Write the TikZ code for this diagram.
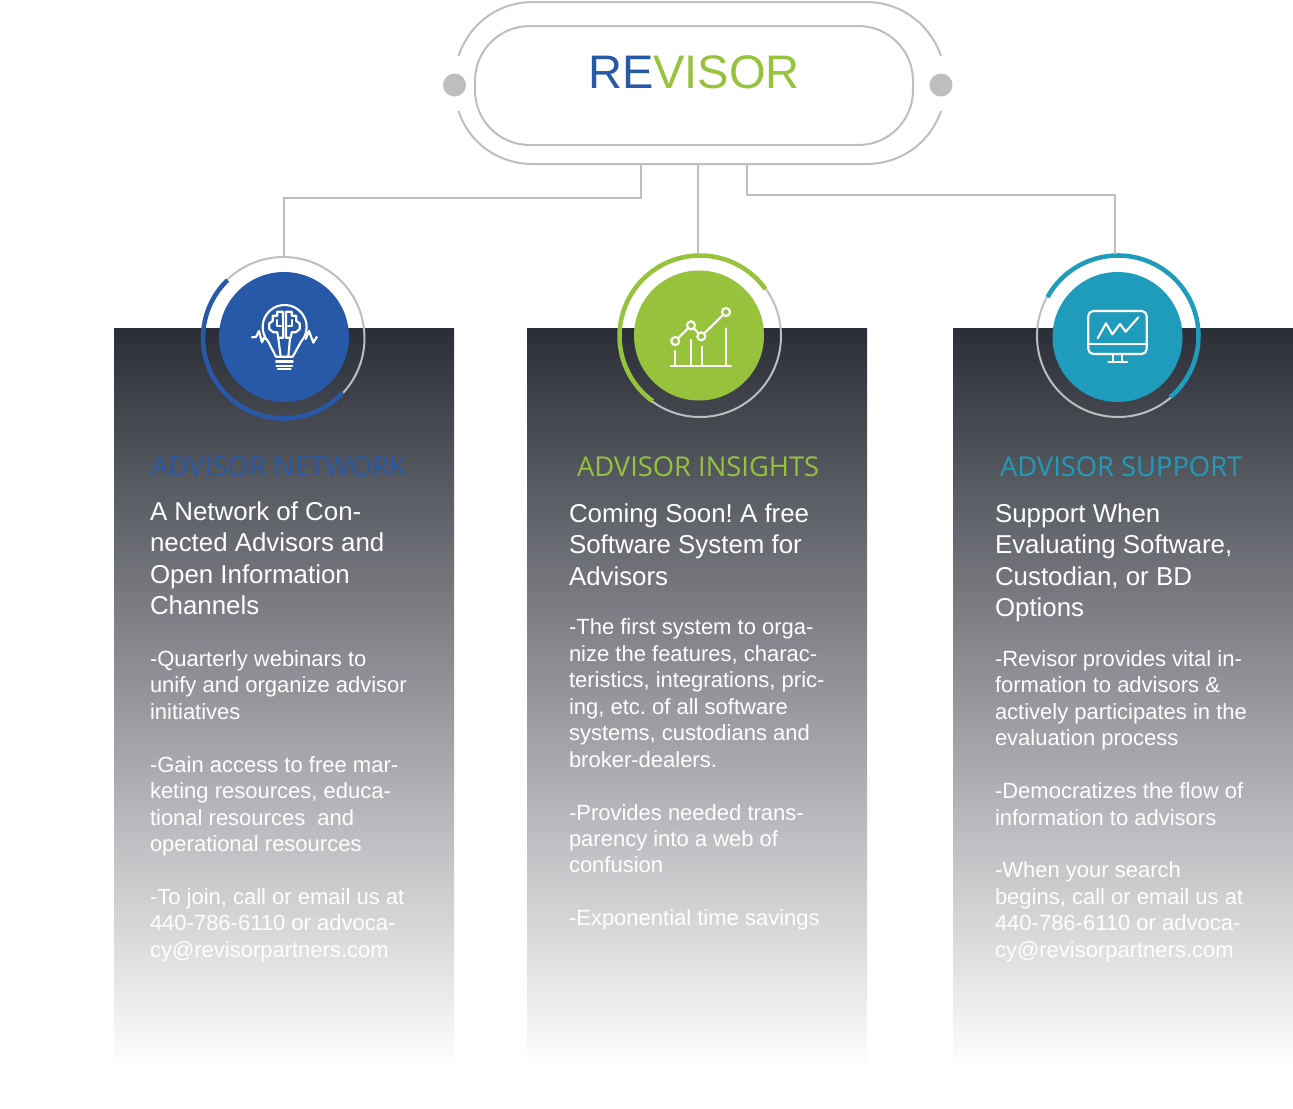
\documentclass[tikz,border=0pt]{standalone}
\usepackage{fontspec}
\setmainfont{Liberation Sans}
\newfontfamily\capsfont{Open Sans}
\usetikzlibrary{calc}

\definecolor{revblue}{HTML}{2859A8}
\definecolor{revgreen}{HTML}{96C23C}
\definecolor{revteal}{HTML}{1F9CBC}
\definecolor{revgrey}{HTML}{BCBEC0}
\definecolor{revink}{HTML}{2B2E37}

\tikzset{every picture/.style={line width=0.75pt}}
\tikzset{
  greyline/.style={draw=revgrey,line width=1.5pt},
  panelshade/.style={top color=revink,bottom color=white},
  ringline/.style={circle,draw=revgrey,line width=1.5pt,minimum size=121.5pt,inner sep=0pt},
  disc/.style={circle,minimum size=97.5pt,inner sep=0pt},
  iconline/.style={draw=white,line width=1.6pt,line join=round,line cap=round},
  chartpoint/.style={circle,draw=white,line width=1.6pt,fill=revgreen,minimum size=6pt,inner sep=0pt},
  brandtext/.style={font=\fontsize{35.3}{40}\selectfont,inner sep=0pt},
  captext/.style={font=\capsfont\fontsize{20.5}{24}\selectfont,inner sep=0pt,anchor=north west},
  headtext/.style={font=\fontsize{19.4}{23.6}\selectfont\frenchspacing,text=white,align=left,inner sep=0pt,anchor=north west},
  bodytext/.style={font=\fontsize{16.5}{19.83}\selectfont\frenchspacing,text=white,align=left,inner sep=0pt,anchor=north west}
}

\begin{document}
\begin{tikzpicture}[x=0.75pt,y=0.75pt,yscale=-1,xscale=1]
        \useasboundingbox (0,0) rectangle (1293,1108);

        %Shape: Rectangle
        \shade[panelshade] (114,328) rectangle (454,1068);
        \shade[panelshade] (527,328) rectangle (867,1068);
        \shade[panelshade] (953,328) rectangle (1293,1068);

        %Pill
        \node[greyline,rounded corners=41pt,minimum width=328.5pt,minimum height=89.25pt,inner sep=0pt] (pill) at (694,85.5) {};
        \node[brandtext] (brand) at (694,72) {\textcolor{revblue}{RE}\textcolor{revgreen}{VISOR}};
        %Curve Lines
        \draw[greyline] (458.5,56) .. controls (470,22) and (500,2) .. (533,2) -- (866,2) .. controls (899,2) and (929,22) .. (941,56);
        \draw[greyline] (458.5,111) .. controls (470,145) and (500,164) .. (533,164) -- (866,164) .. controls (899,164) and (929,145) .. (941,111);
        \node[circle,fill=revgrey,minimum size=17.25pt,inner sep=0pt] (dotleft) at (454.5,85) {};
        \node[circle,fill=revgrey,minimum size=17.25pt,inner sep=0pt] (dotright) at (941,85) {};

        %Rings
        \node[ringline] (ringnet) at (283.5,338) {};
        \node[ringline] (ringins) at (700,336) {};
        \node[ringline] (ringsup) at (1118,336) {};
        \draw[revblue,line width=3.4pt] (ringnet.center) ++(-134:80.5) arc[start angle=-134,end angle=-317.5,radius=80.5];
        \draw[revgreen,line width=3.4pt] (ringins.center) ++(-35.6:80.5) arc[start angle=-35.6,end angle=-234,radius=80.5];
        \draw[revteal,line width=3.4pt] (ringsup.center) ++(-151:80.5) arc[start angle=-151,end angle=49.5,radius=80.5];
        \node[disc,fill=revblue] (discnet) at (284,337) {};
        \node[disc,fill=revgreen] (discins) at (699,335.5) {};
        \node[disc,fill=revteal] (discsup) at (1117.5,337) {};

        %Connectors
        \coordinate (outleft) at (641,164);
        \coordinate (outmid) at (698,164);
        \coordinate (outright) at (747,164);
        \coordinate (topsup) at (1115,254);
        \draw[greyline] (outleft) -- ++(0,34) -| (ringnet.north);
        \draw[greyline] (outmid) -- (outmid |- ringins.north);
        \draw[greyline] (outright) -- ++(0,31) -| (topsup);

        %Bulb
        \draw[iconline] (268.3,341.7) arc[start angle=138,end angle=402,radius=22] -- (292.7,356.7) -- (276,356.7) -- cycle;
        \draw[iconline] (278.3,338.3) -- (280.7,356.7) (290,338.3) -- (288.3,356.7);
        \draw[iconline] (276,361.5) -- (292.7,361.5) (276.5,366) -- (292.2,366) (278,369) -- (290.7,369);
        \draw[iconline] (283,311.7) -- (277.3,311.7) -- (277.3,315.7) -- (272.7,315.7) -- (272.7,321) -- (269.3,323.3) -- (269.3,329) -- (273.3,332.3) -- (277.3,332.3) -- (278.3,337.7) -- (283.3,337.7) -- cycle;
        \draw[iconline] (286,311.7) -- (291.7,311.7) -- (291.7,315.7) -- (296.3,315.7) -- (296.3,321) -- (299.7,323.3) -- (299.7,329) -- (295.7,332.3) -- (291.7,332.3) -- (290.7,337.7) -- (286,337.7) -- cycle;
        \draw[iconline] (277.3,320) -- (277.3,326) -- (281,326) (291.7,320) -- (291.7,326) -- (288,326);
        \draw[iconline] (252,337.3) -- (256,337) -- (259,331) -- (262,342.3) -- (264,337.7) -- (266,339.3);
        \draw[iconline] (316.7,337) -- (313.3,342.7) -- (309,331) -- (305.7,339);

        %Chart
        \draw[iconline] (670.7,366) -- (731,366);
        \draw[iconline] (675.3,351) -- (675.3,366) (691,340) -- (691,366) (701.7,346.7) -- (701.7,366) (725.7,328.3) -- (725.7,366);
        \draw[iconline] (675.3,341) -- (691,325.3) -- (701.3,336.3) -- (726,312);
        \node[chartpoint] (pta) at (675.3,341) {};
        \node[chartpoint] (ptb) at (691,325.3) {};
        \node[chartpoint] (ptc) at (701.3,336.3) {};
        \node[chartpoint] (ptd) at (726,312) {};

        %Monitor
        \draw[iconline,rounded corners=3.75pt] (1088.3,311) rectangle (1146.7,354);
        \draw[iconline] (1088.3,344.3) -- (1146.7,344.3);
        \draw[iconline] (1113.3,354) -- (1113.3,362.3) (1122.3,354) -- (1122.3,362.3) (1108.3,362.3) -- (1127.3,362.3);
        \draw[iconline] (1097.7,338.3) -- (1106,323.3) -- (1112.3,334.3) -- (1120,324) -- (1125.7,331.7) -- (1138.3,317.3);

        %Captions
        \node[captext,text=revblue,font=\capsfont\fontsize{20.8}{24}\selectfont] (capnet) at (150,456) {ADVISOR NETWORK};
        \node[captext,text=revgreen] (capins) at (576.5,456.5) {ADVISOR INSIGHTS};
        \node[captext,text=revteal] (capsup) at (999.5,456.5) {ADVISOR SUPPORT};

        %Headings
        \node[headtext] (headnet) at (149.5,501) {A Network of Con-\\nected Advisors and\\Open Information\\Channels};
        \node[headtext] (headins) at (568.5,503) {Coming Soon! A free\\Software System for\\Advisors};
        \node[headtext] (headsup) at (994.5,503) {Support When\\Evaluating Software,\\Custodian, or BD\\Options};

        %Body
        \node[bodytext] (bodynet) at (149.5,650) {-Quarterly webinars to\\unify and organize advisor\\initiatives\\[19.83pt]-Gain access to free mar-\\keting resources, educa-\\tional resources~ and\\operational resources\\[19.83pt]-To join, call or email us at\\440-786-6110 or advoca-\\cy@revisorpartners.com};
        \node[bodytext] (bodyins) at (568.5,618.5) {-The first system to orga-\\nize the features, charac-\\teristics, integrations, pric-\\ing, etc. of all software\\systems, custodians and\\broker-dealers.\\[19.83pt]-Provides needed trans-\\parency into a web of\\confusion\\[19.83pt]-Exponential time savings};
        \node[bodytext] (bodysup) at (994.5,650) {-Revisor provides vital in-\\formation to advisors \&\\actively participates in the\\evaluation process\\[19.83pt]-Democratizes the flow of\\information to advisors\\[19.83pt]-When your search\\begins, call or email us at\\440-786-6110 or advoca-\\cy@revisorpartners.com};

\end{tikzpicture}
\end{document}
